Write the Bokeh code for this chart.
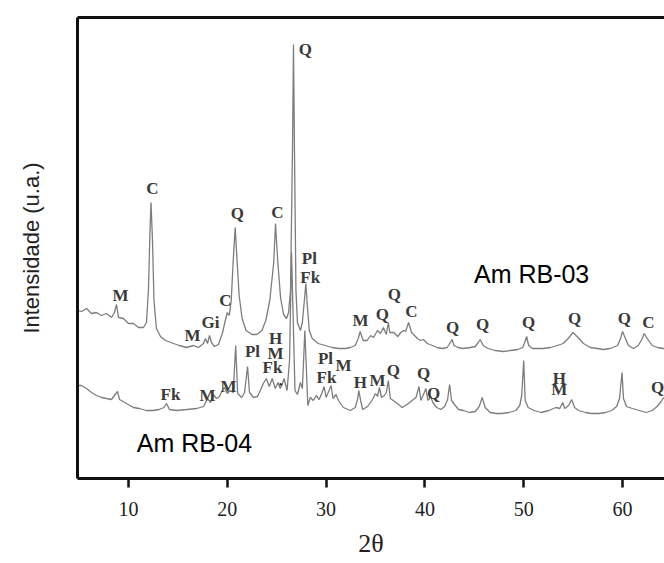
from bokeh.plotting import figure
from bokeh.models import Range1d, FixedTicker, LinearAxis, ColumnDataSource
from bokeh.core.properties import value
from bokeh.embed import file_html
from bokeh.resources import INLINE

# ---------------- data (2theta, intensity a.u.) ----------------
rb03_points = [
    (4.9, 169), (5.25, 168), (5.75, 171), (6.26, 166), (6.76, 167), (7.27, 164), (7.77, 166),
    (8.28, 162), (8.58, 167), (8.79, 175), (8.99, 162), (9.49, 161), (10.0, 156), (10.51, 156),
    (11.01, 152), (11.52, 152), (11.82, 157), (12.02, 189), (12.18, 249), (12.28, 277),
    (12.43, 239), (12.58, 179), (12.83, 151), (13.24, 143), (13.75, 139), (14.55, 136),
    (15.16, 134), (15.87, 132), (16.58, 134), (17.09, 132), (17.59, 136), (17.79, 141),
    (18.0, 136), (18.2, 144), (18.4, 137), (18.7, 133), (19.1, 135), (19.5, 146), (19.8, 159),
    (20.0, 167), (20.2, 164), (20.4, 179), (20.6, 219), (20.8, 252), (21.0, 217), (21.2, 184),
    (21.5, 161), (21.9, 149), (22.5, 145), (23.0, 145), (23.5, 149), (23.9, 159), (24.3, 179),
    (24.7, 217), (24.88, 256), (25.1, 219), (25.4, 181), (25.7, 165), (26.0, 161), (26.2, 167),
    (26.4, 189), (26.6, 329), (26.7, 435), (26.8, 329), (26.95, 189), (27.1, 157), (27.4, 149),
    (27.6, 157), (27.8, 179), (27.95, 196), (28.1, 174), (28.3, 149), (28.6, 141), (29.2, 136),
    (29.9, 134), (30.6, 132), (31.25, 131), (31.95, 131), (32.45, 132), (32.95, 134),
    (33.25, 141), (33.45, 148), (33.75, 139), (34.15, 139), (34.5, 144), (34.8, 142),
    (35.2, 149), (35.5, 146), (35.8, 152), (36.1, 145), (36.3, 157), (36.45, 147), (36.85, 147),
    (37.25, 143), (37.55, 147), (37.85, 149), (38.05, 148), (38.35, 157), (38.65, 147),
    (38.85, 145), (39.25, 141), (39.55, 139), (39.85, 140), (40.25, 136), (40.75, 134),
    (41.25, 132), (41.75, 131), (42.25, 132), (42.45, 135), (42.75, 140), (42.95, 134),
    (43.35, 132), (43.85, 131), (44.6, 132), (45.1, 133), (45.4, 137), (45.6, 140), (45.9, 134),
    (46.4, 131), (47.1, 129), (47.95, 128), (48.65, 129), (49.4, 130), (49.9, 132), (50.1, 137),
    (50.3, 143), (50.5, 134), (50.9, 131), (51.4, 131), (52.0, 131), (52.7, 132), (53.4, 134),
    (54.0, 136), (54.5, 141), (55.0, 147), (55.5, 142), (56.05, 136), (56.75, 132),
    (57.45, 131), (58.05, 130), (58.75, 131), (59.5, 134), (59.8, 141), (60.0, 148), (60.3, 141),
    (60.6, 134), (61.1, 131), (61.6, 134), (62.0, 141), (62.2, 146), (62.5, 141), (63.0, 134),
    (63.55, 132), (64.15, 131), (64.5, 131),
]

rb04_points = [
    (4.9, 94), (5.25, 94), (5.75, 91), (6.26, 87), (6.76, 84), (7.27, 82), (7.77, 81), (8.28, 80),
    (8.58, 84), (8.89, 88), (9.09, 80), (9.8, 76), (10.5, 72), (11.1, 71), (11.8, 69), (12.5, 69),
    (13.1, 70), (13.6, 72), (13.85, 76), (14.15, 70), (14.85, 69), (15.9, 70), (16.9, 71),
    (17.6, 73), (18.0, 81), (18.3, 77), (18.6, 85), (18.9, 81), (19.2, 83), (19.5, 89),
    (19.7, 92), (20.0, 86), (20.3, 89), (20.6, 87), (20.85, 134), (21.05, 86), (21.45, 82),
    (21.75, 87), (22.05, 113), (22.25, 87), (22.65, 82), (23.05, 83), (23.35, 89), (23.65, 96),
    (23.95, 101), (24.25, 93), (24.55, 101), (24.85, 91), (25.15, 97), (25.35, 91), (25.55, 95),
    (25.75, 101), (26.05, 89), (26.3, 119), (26.5, 227), (26.7, 149), (26.85, 89), (27.1, 85),
    (27.4, 97), (27.6, 91), (27.85, 149), (28.15, 74), (28.4, 82), (28.7, 79), (29.0, 84),
    (29.3, 80), (29.6, 87), (29.8, 93), (30.0, 82), (30.3, 89), (30.5, 94), (30.7, 81),
    (31.0, 85), (31.25, 79), (31.75, 72), (32.45, 69), (32.95, 72), (33.2, 81), (33.3, 89),
    (33.5, 79), (33.7, 70), (34.2, 73), (34.7, 80), (35.0, 86), (35.2, 83), (35.4, 92),
    (35.6, 82), (35.9, 84), (36.1, 87), (36.3, 99), (36.5, 81), (36.8, 79), (37.2, 76),
    (37.7, 72), (38.2, 75), (38.7, 79), (39.1, 82), (39.4, 93), (39.6, 79), (39.9, 86),
    (40.1, 91), (40.3, 79), (40.6, 83), (40.8, 77), (41.2, 72), (41.6, 70), (42.0, 73),
    (42.3, 80), (42.5, 95), (42.7, 79), (43.0, 75), (43.4, 70), (43.9, 69), (44.5, 67),
    (45.1, 68), (45.5, 73), (45.8, 82), (46.1, 72), (46.6, 67), (47.2, 66), (47.8, 66),
    (48.5, 67), (49.2, 69), (49.6, 74), (49.8, 84), (50.0, 119), (50.15, 79), (50.45, 72),
    (51.05, 69), (51.75, 67), (52.55, 69), (53.25, 72), (53.65, 71), (53.95, 77), (54.15, 71),
    (54.55, 74), (54.85, 80), (55.15, 72), (55.55, 69), (56.25, 67), (56.85, 66), (57.6, 66),
    (58.3, 67), (58.9, 69), (59.4, 73), (59.7, 81), (59.95, 107), (60.1, 81), (60.4, 73),
    (61.0, 71), (61.7, 69), (62.4, 67), (63.0, 69), (63.5, 73), (63.9, 78), (64.1, 81),
    (64.5, 84),
]

# phase labels (text, 2theta, intensity position)
rb03_phase_text = ["Q", "C", "Q", "C", "Pl", "Fk", "M", "M", "Gi", "C", "M", "Q", "Q", "C",
                   "Q", "Q", "Q", "Q", "Q", "C"]
rb03_phase_x = [27.9, 12.43, 21.03, 25.08, 28.3, 28.4, 9.19, 16.48, 18.3, 19.82, 33.48, 35.7,
                36.92, 38.64, 42.8, 45.83, 50.49, 55.14, 60.2, 62.63]
rb03_phase_y = [430, 291, 266, 267, 221, 202, 184, 144, 157, 179, 159, 165, 185, 168, 152, 155,
                157, 161, 161, 157]

rb04_phase_text = ["Fk", "M", "M", "Pl", "H", "M", "Fk", "Pl", "Fk", "M", "H", "M", "Q", "Q",
                   "Q", "H", "M", "Q"]
rb04_phase_x = [14.25, 18.0, 20.12, 22.55, 24.88, 24.88, 24.57, 29.94, 30.04, 31.76, 33.48,
                35.2, 36.82, 39.86, 40.87, 53.6, 53.6, 63.55]
rb04_phase_y = [85, 84, 93, 128, 141, 126, 112, 121, 102, 114, 97, 99, 109, 106, 86, 101, 90, 92]

dot_x = [25.4]
dot_y = [96]

sample_names = ["Am RB-03", "Am RB-04"]
sample_x = [50.8, 16.68]
sample_y = [206, 37]

x_ticks = [10, 20, 30, 40, 50, 60]

# ---------------- figure ----------------
p = figure(width=664, height=563, x_range=Range1d(4.84, 64.25), y_range=Range1d(1, 462),
           output_backend="svg", toolbar_location=None,
           min_border_left=77, min_border_right=0, min_border_top=17, min_border_bottom=85)
p.outline_line_color = None
p.grid.visible = False
p.background_fill_color = "white"
p.border_fill_color = "white"

line_color = "#7d7d7d"
p.line([pt[0] for pt in rb03_points], [pt[1] for pt in rb03_points], line_color=line_color, line_width=1.3)
p.line([pt[0] for pt in rb04_points], [pt[1] for pt in rb04_points], line_color=line_color, line_width=1.3)

lab_src = ColumnDataSource(dict(t=rb03_phase_text + rb04_phase_text,
                                x=rb03_phase_x + rb04_phase_x,
                                y=rb03_phase_y + rb04_phase_y))
p.text(x="x", y="y", text="t", source=lab_src, text_font=value("Liberation Serif"),
       text_font_size=value("17px"), text_font_style="bold", text_color="#3a3a3a",
       text_align="center", text_baseline="middle")
p.text(x=dot_x, y=dot_y, text=["•"], text_font=value("Liberation Serif"),
       text_font_size=value("11px"), text_color="#222222", text_align="center", text_baseline="middle")

p.text(x=sample_x, y=sample_y, text=sample_names, text_font=value("Liberation Sans"),
       text_font_size=value("25px"), text_color="black", text_align="center", text_baseline="middle")

# bottom axis
xa = p.xaxis[0]
xa.ticker = FixedTicker(ticks=x_ticks, minor_ticks=[])
xa.axis_line_width = 3
xa.axis_line_color = "#111111"
xa.major_tick_line_width = 2.5
xa.major_tick_line_color = "#111111"
xa.major_tick_out = 9
xa.major_tick_in = 0
xa.minor_tick_out = 0
xa.minor_tick_in = 0
xa.major_label_text_font = "Liberation Serif"
xa.major_label_text_font_size = "20px"
xa.major_label_text_color = "#222222"
xa.major_label_standoff = 14
xa.axis_label = "2θ"
xa.axis_label_text_font = "Liberation Serif"
xa.axis_label_text_font_size = "26px"
xa.axis_label_text_font_style = "normal"
xa.axis_label_text_color = "#222222"
xa.axis_label_standoff = 10

# left axis
ya = p.yaxis[0]
ya.ticker = FixedTicker(ticks=[], minor_ticks=[])
ya.axis_line_width = 3
ya.axis_line_color = "#111111"
ya.major_tick_out = 0
ya.major_tick_in = 0
ya.minor_tick_out = 0
ya.minor_tick_in = 0
ya.major_label_standoff = 0
ya.axis_label = "Intensidade (u.a.)"
ya.axis_label_text_font = "Liberation Sans"
ya.axis_label_text_font_size = "22px"
ya.axis_label_text_font_style = "normal"
ya.axis_label_text_color = "#222222"
ya.axis_label_standoff = 34

# top frame line
top = LinearAxis(ticker=FixedTicker(ticks=[], minor_ticks=[]), axis_line_width=3,
                 axis_line_color="#111111", major_tick_out=0, major_tick_in=0,
                 minor_tick_out=0, minor_tick_in=0, major_label_standoff=0,
                 major_label_text_font_size="0px")
p.add_layout(top, "above")

open("out.html", "w").write(file_html(p, INLINE))
